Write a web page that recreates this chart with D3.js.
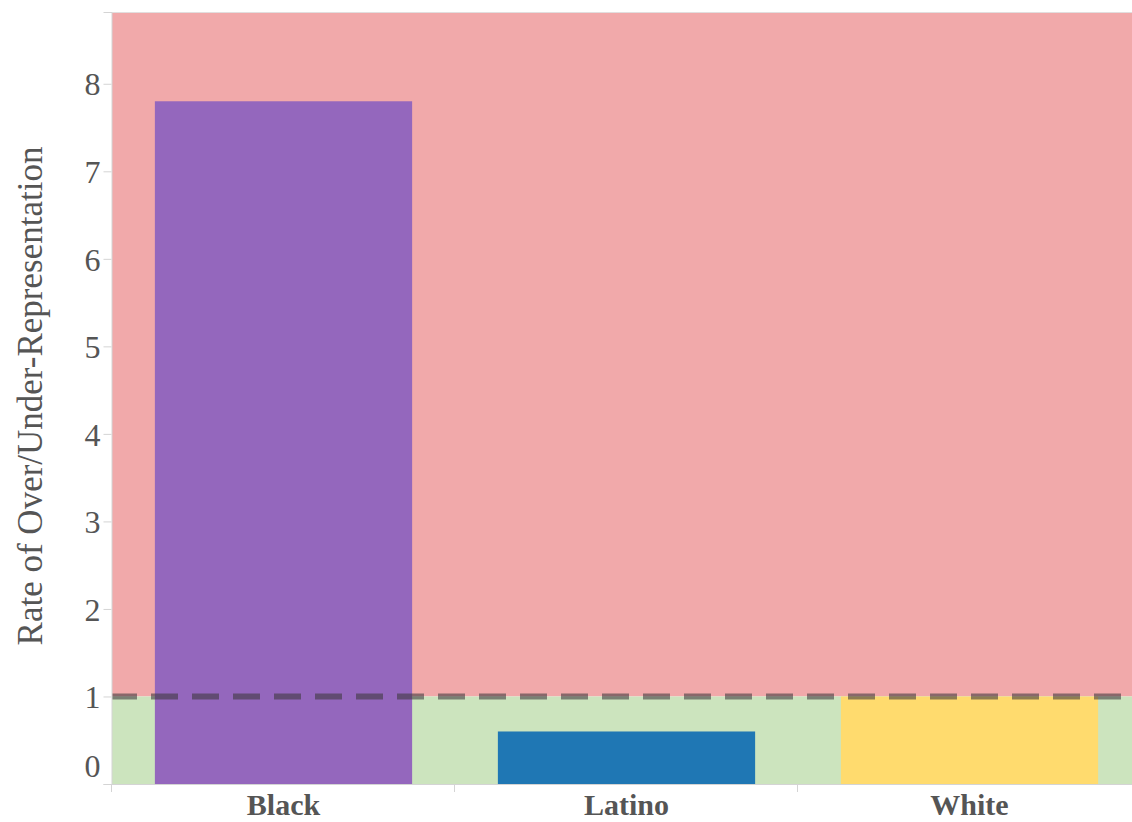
<!DOCTYPE html>
<html>
<head>
<meta charset="utf-8">
<script src="https://cdn.jsdelivr.net/npm/d3@7"></script>
<style>
  html, body { margin: 0; padding: 0; background: #fff; overflow: hidden; }
  svg { display: block; }
</style>
</head>
<body>
<div id="chart"></div>
<script>
// ---- data ----
const categories = ["Black", "Latino", "White"];
const values = [7.8, 0.6, 1.0];
const barColors = ["#9467BD", "#1F77B4", "#FFDB6E"];
const yTicks = [0, 1, 2, 3, 4, 5, 6, 7, 8];
const threshold = 1;
const yMax = 8.82;
const yTitle = "Rate of Over/Under-Representation";

// ---- layout ----
const W = 1132, H = 822;
const mLeft = 112, mRight = 1141, mTop = 12, mBottom = 784;
const serif = "'Liberation Serif', 'Times New Roman', serif";

const svg = d3.select("#chart").append("svg")
  .attr("width", W).attr("height", H);

const x = d3.scaleBand().domain(categories).range([mLeft, mRight]).padding(0);
const y = d3.scaleLinear().domain([0, yMax]).range([mBottom, mTop]);

// background regions
svg.append("rect")
  .attr("x", mLeft).attr("width", mRight - mLeft)
  .attr("y", y(yMax)).attr("height", y(threshold) - y(yMax))
  .attr("fill", "#F1A9AA");
svg.append("rect")
  .attr("x", mLeft).attr("width", mRight - mLeft)
  .attr("y", y(threshold)).attr("height", y(0) - y(threshold))
  .attr("fill", "#CCE4BE");
svg.append("line")
  .attr("x1", mLeft).attr("x2", mRight)
  .attr("y1", y(yMax) + 0.5).attr("y2", y(yMax) + 0.5)
  .attr("stroke", "#e2dede").attr("stroke-width", 1);

// bars
const bw = x.bandwidth() * 0.75;
svg.selectAll("rect.bar").data(categories).enter().append("rect")
  .attr("class", "bar")
  .attr("x", d => x(d) + (x.bandwidth() - bw) / 2)
  .attr("width", bw)
  .attr("y", (d, i) => y(values[i]))
  .attr("height", (d, i) => y(0) - y(values[i]))
  .attr("fill", (d, i) => barColors[i]);

// threshold dashed line
svg.append("line")
  .attr("x1", mLeft).attr("x2", mRight)
  .attr("y1", y(threshold)).attr("y2", y(threshold))
  .attr("stroke", "rgb(60,55,60)").attr("stroke-opacity", 0.58)
  .attr("stroke-width", 6)
  .attr("stroke-dasharray", "27,14")
  .attr("stroke-dashoffset", 2);

// y axis
const yAxis = svg.append("g")
  .attr("transform", `translate(${mLeft - 0.5},0)`)
  .call(d3.axisLeft(y).tickValues(yTicks).tickSize(8).tickPadding(3).tickFormat(d3.format("d")));
yAxis.select(".domain").attr("stroke", "#d4d4d4");
yAxis.selectAll(".tick line").attr("stroke", "#d4d4d4");
yAxis.selectAll(".tick text")
  .attr("fill", "#555")
  .style("font-family", serif)
  .style("font-size", "32px")
  .attr("dy", d => d === 0 ? "-0.25em" : "0.35em");

// x axis
svg.append("line")
  .attr("x1", mLeft).attr("x2", mRight)
  .attr("y1", mBottom + 0.5).attr("y2", mBottom + 0.5)
  .attr("stroke", "#d4d4d4");
svg.selectAll("line.xtick").data(categories).enter().append("line")
  .attr("class", "xtick")
  .attr("x1", d => Math.round(x(d)) - 0.5).attr("x2", d => Math.round(x(d)) - 0.5)
  .attr("y1", mBottom).attr("y2", mBottom + 8)
  .attr("stroke", "#d4d4d4");
svg.selectAll("text.xlab").data(categories).enter().append("text")
  .attr("class", "xlab")
  .attr("x", d => x(d) + x.bandwidth() / 2)
  .attr("y", 815)
  .attr("text-anchor", "middle")
  .attr("fill", "#555")
  .style("font-family", serif)
  .style("font-weight", "bold")
  .style("font-size", "30px")
  .text(d => d);

// y title
svg.append("text")
  .attr("transform", `translate(42, 396) rotate(-90)`)
  .attr("text-anchor", "middle")
  .attr("fill", "#555")
  .style("font-family", serif)
  .style("font-size", "35px")
  .text(yTitle);
</script>
</body>
</html>
